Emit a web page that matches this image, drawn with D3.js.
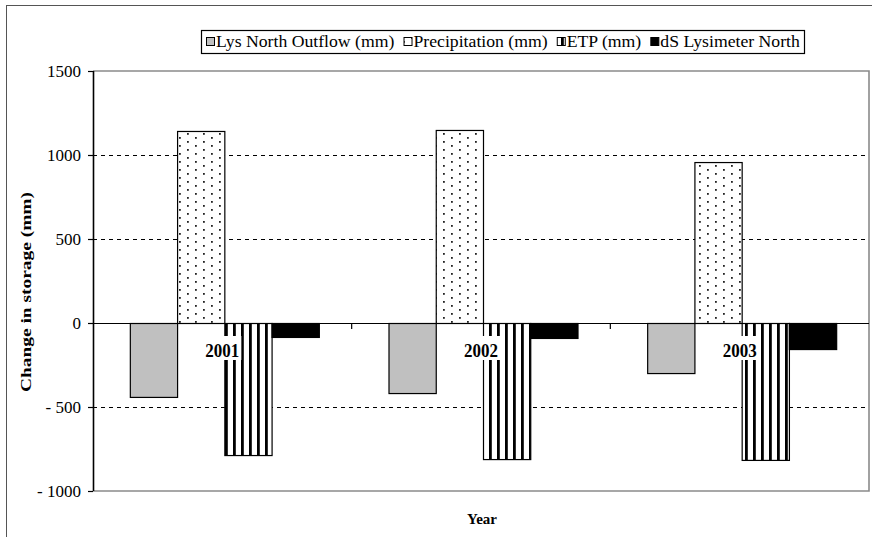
<!DOCTYPE html>
<html><head><meta charset="utf-8">
<script src="https://cdn.jsdelivr.net/npm/d3@7"></script>
<style>body{margin:0;background:#fff}svg{display:block}svg text{font-family:"Liberation Serif","Times New Roman",serif !important}</style>
</head><body>
<svg id="c" width="872" height="537"></svg>
<script>
const years = ["2001", "2002", "2003"];
const seriesNames = ["Lys North Outflow (mm)", "Precipitation (mm)", "ETP (mm)", "dS Lysimeter North"];
const outflow = [-440, -417, -298];
const precipitation = [1143, 1149, 958];
const etp = [-786, -810, -815];
const dsNorth = [-83, -89, -155];
const yTicks = [1500, 1000, 500, 0, -500, -1000];
const yTickLabels = ["1500", "1000", "500", "0", "- 500", "- 1000"];

const seriesValues = [outflow, precipitation, etp, dsNorth];
const fills = ["#c0c0c0", "url(#dots)", "url(#stripes)", "#000"];
const SERIF = '"Liberation Serif","Times New Roman",serif';

const svg = d3.select("#c");
const defs = svg.append("defs");
const pd = defs.append("pattern").attr("id", "dots").attr("patternUnits", "userSpaceOnUse")
  .attr("width", 16).attr("height", 8);
pd.append("rect").attr("width", 16).attr("height", 8).attr("fill", "#fff");
pd.append("rect").attr("x", 3).attr("y", 1).attr("width", 1.8).attr("height", 1.8).attr("fill", "#222");
pd.append("rect").attr("x", 11).attr("y", 5).attr("width", 1.8).attr("height", 1.8).attr("fill", "#222");
const ps = defs.append("pattern").attr("id", "stripes").attr("patternUnits", "userSpaceOnUse")
  .attr("width", 8).attr("height", 8);
ps.append("rect").attr("width", 8).attr("height", 8).attr("fill", "#fff");
ps.append("rect").attr("x", 1).attr("width", 2.8).attr("height", 8).attr("fill", "#000");

// outer frame
svg.append("rect").attr("x", 6.5).attr("y", 5.5).attr("width", 900).attr("height", 600)
  .attr("fill", "none").attr("stroke", "#555").attr("stroke-width", 1);

const L = 93, R = 869, T = 71, B = 491;
const y = d3.scaleLinear().domain([-1000, 1500]).range([B, T]);
const x = d3.scaleBand().domain(years).range([L, R]).paddingInner(0).paddingOuter(0);
const groupW = 189;
const xi = d3.scaleBand().domain(d3.range(4)).range([-groupW / 2 + 2, groupW / 2 + 2]);

// gridlines
svg.append("g").selectAll("line").data(yTicks.filter(v => v !== 1500 && v !== -1000 && v !== 0))
  .join("line").attr("x1", L).attr("x2", R).attr("y1", d => y(d) + 0.5).attr("y2", d => y(d) + 0.5)
  .attr("stroke", "#000").attr("stroke-width", 1).attr("stroke-dasharray", "4,4");

// plot border (gray)
svg.append("path").attr("d", `M${L},${T}H${R}V${B}H${L}`).attr("fill", "none")
  .attr("stroke", "#8a8a8a").attr("stroke-width", 1.6);

// bars
const barData = [];
years.forEach((yr, i) => seriesValues.forEach((arr, s) => barData.push({ yr, s, v: arr[i] })));
svg.append("g").selectAll("rect").data(barData).join("rect")
  .attr("x", d => x(d.yr) + x.bandwidth() / 2 + xi(d.s) + 0.5)
  .attr("width", xi.bandwidth())
  .attr("y", d => Math.min(y(d.v), y(0)) + 0.5)
  .attr("height", d => Math.abs(y(d.v) - y(0)))
  .attr("fill", d => fills[d.s]).attr("stroke", "#000").attr("stroke-width", 1.2);

// zero line
svg.append("line").attr("x1", L).attr("x2", R).attr("y1", y(0) + 0.5).attr("y2", y(0) + 0.5)
  .attr("stroke", "#000").attr("stroke-width", 1.2);
// category ticks
svg.append("g").selectAll("line").data(years.slice(1)).join("line")
  .attr("x1", d => x(d)).attr("x2", d => x(d)).attr("y1", y(0)).attr("y2", y(0) + 6)
  .attr("stroke", "#000").attr("stroke-width", 1.2);

// year labels with white background
const yl = svg.append("g").selectAll("g").data(years).join("g")
  .attr("transform", d => `translate(${x(d) + x.bandwidth() / 2},${y(0)})`);
yl.append("rect").attr("x", -19).attr("y", 13).attr("width", 38).attr("height", 24).attr("fill", "#fff");
yl.append("text").attr("text-anchor", "middle").attr("y", 34).attr("font-size", 19)
  .style("font-family", SERIF)
  .attr("font-weight", "bold").attr("textLength", 34).attr("lengthAdjust", "spacingAndGlyphs").text(d => d);

// y axis
const ya = svg.append("g").attr("transform", `translate(${L},0)`)
  .call(d3.axisLeft(y).tickValues(yTicks).tickSize(5).tickPadding(7).tickFormat((d, i) => yTickLabels[i]));
ya.attr("font-family", SERIF);
ya.select(".domain").attr("stroke", "#000").attr("stroke-width", 1.6).attr("d", `M0.5,${T}V${B}`);
ya.selectAll(".tick line").attr("stroke", "#000").attr("stroke-width", 1.2);
ya.selectAll(".tick text").style("font-family", SERIF).attr("font-size", 17).attr("fill", "#000")
  .attr("dy", "0.35em");

// y title
svg.append("text").attr("transform", "translate(31,292) rotate(-90)").attr("text-anchor", "middle")
  .style("font-family", SERIF)
  .attr("font-size", 14).attr("font-weight", "bold").attr("textLength", 200).attr("lengthAdjust", "spacingAndGlyphs")
  .text("Change in storage (mm)");
// x title
svg.append("text").attr("x", 482).attr("y", 524).attr("text-anchor", "middle").attr("font-size", 15)
  .style("font-family", SERIF)
  .attr("font-weight", "bold").text("Year");

// legend
const lg = svg.append("g");
lg.append("rect").attr("x", 201.5).attr("y", 30.5).attr("width", 603).attr("height", 23)
  .attr("fill", "#fff").attr("stroke", "#000").attr("stroke-width", 1.2);
const items = lg.selectAll("g.it").data(seriesNames).join("g").attr("class", "it");
const texts = items.append("text").style("font-family", SERIF).attr("font-size", 15).attr("y", 47).text(d => d);
const widths = texts.nodes().map(n => n.getComputedTextLength());
const sw = 8, g1 = 2, g2 = 9;
const avail = 800 - 206 - seriesNames.length * (sw + g1) - (seriesNames.length - 1) * g2;
const k = avail / d3.sum(widths);
texts.attr("font-size", 15 * k);
let cx = 206;
items.each(function (d, i) {
  const it = d3.select(this);
  it.insert("rect", "text").attr("x", cx + 0.5).attr("y", 37.5).attr("width", sw).attr("height", sw)
    .attr("fill", fills[i]).attr("stroke", "#000").attr("stroke-width", 1);
  it.select("text").attr("x", cx + sw + g1);
  cx += sw + g1 + widths[i] * k + g2;
});
</script>
</body></html>
